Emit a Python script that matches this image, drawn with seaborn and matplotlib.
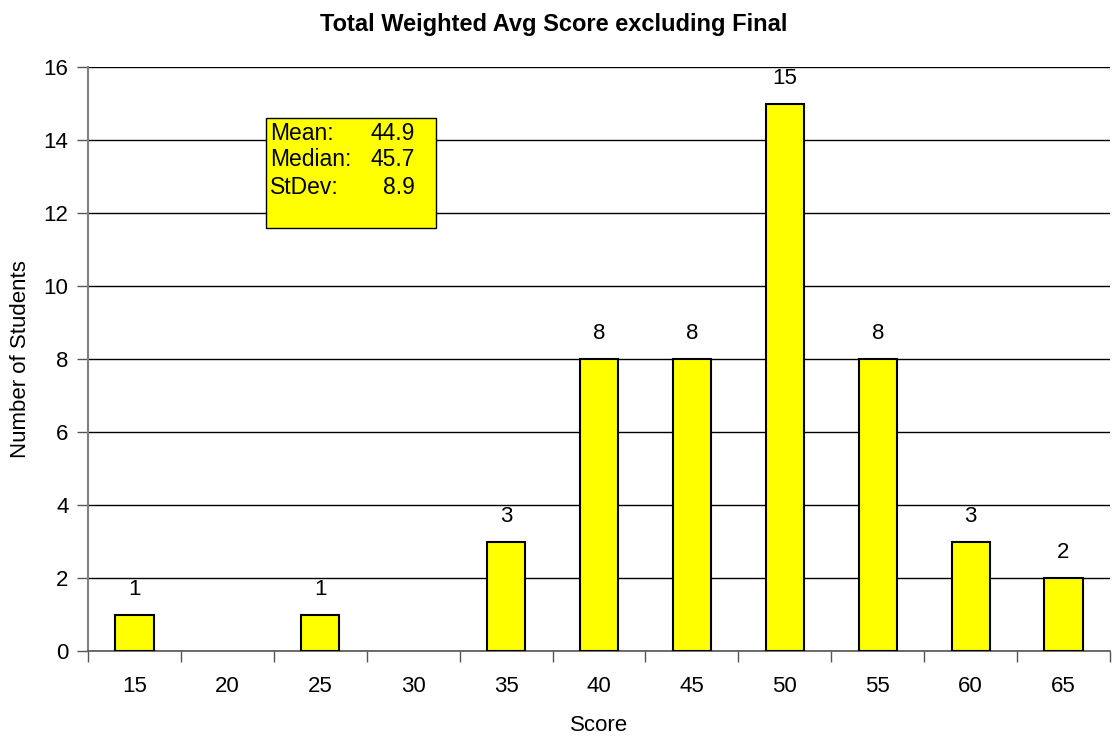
import matplotlib
matplotlib.use('Agg')
import matplotlib.pyplot as plt
import seaborn as sns
import pandas as pd
from matplotlib.patches import Rectangle

sns.set_theme(style='white')
plt.rcParams['font.family'] = ['Liberation Sans', 'DejaVu Sans']
plt.rcParams['text.color'] = 'black'
plt.rcParams['xtick.color'] = 'black'
plt.rcParams['ytick.color'] = 'black'
plt.rcParams['axes.labelcolor'] = 'black'

# histogram of scores
score_bins = ['15', '20', '25', '30', '35', '40', '45', '50', '55', '60', '65']
student_counts = [1, 0, 1, 0, 3, 8, 8, 15, 8, 3, 2]
stat_names = ['Mean:', 'Median:', 'StDev:']
stat_values = ['44.9', '45.7', '8.9']

df = pd.DataFrame({'Score': score_bins, 'Count': student_counts})

fig = plt.figure(figsize=(11.12, 7.36), dpi=100)
ax = fig.add_axes([88 / 1112, 1 - 651 / 736, 1022 / 1112, 584 / 736])

sns.barplot(data=df, x='Score', y='Count', color='#ffff00', width=0.41,
            edgecolor='black', linewidth=1.5, saturation=1, ax=ax, zorder=3)
# empty bins: no outline
for p in ax.patches:
    if p.get_height() == 0:
        p.set_visible(False)

ax.set_ylim(0, 16)
ax.set_xlim(-0.5, len(score_bins) - 0.5)
ax.set_yticks(range(0, 17, 2))
ax.yaxis.grid(True, color='black', linewidth=1)
ax.set_axisbelow(True)

# category labels between boundary ticks, like excel
ax.set_xticks([i - 0.5 for i in range(len(score_bins) + 1)], minor=False)
ax.set_xticklabels([])
ax.set_xticks(range(len(score_bins)), minor=True)
ax.set_xticklabels(score_bins, minor=True)
ax.tick_params(axis='x', which='major', length=8, width=1, color='#555555', direction='out', bottom=True)
ax.tick_params(axis='x', which='minor', length=0, pad=18, labelsize=16)
ax.tick_params(axis='y', length=8, width=1, color='#555555', direction='out', left=True, labelsize=16, pad=6)

for s in ['top', 'right']:
    ax.spines[s].set_visible(False)
ax.spines['left'].set_color('#808080')
ax.spines['left'].set_linewidth(1.5)
ax.spines['bottom'].set_color('#555555')
ax.spines['bottom'].set_linewidth(1.2)

for i, c in enumerate(student_counts):
    if c > 0:
        ax.text(i, c + 0.4, str(c), ha='center', va='bottom', fontsize=16, color='black')

ax.set_xlabel('Score', fontsize=16, labelpad=13)
ax.set_ylabel('Number of Students', fontsize=16, labelpad=9)
fig.text(554 / 1112, 1 - 25 / 736, 'Total Weighted Avg Score excluding Final',
         ha='center', va='center', fontsize=17, fontweight='bold')

# stats box
ax.add_patch(Rectangle(((266 - 88) / 1022, (651 - 228) / 584), 170 / 1022, 110 / 584,
                       transform=ax.transAxes, facecolor='#ffff00', edgecolor='black',
                       linewidth=1, zorder=5))
for k, (n, v) in enumerate(zip(stat_names, stat_values)):
    yy = (651 - (133 + 27 * k)) / 584
    ax.text((270 - 88) / 1022, yy, n, transform=ax.transAxes, ha='left', va='center',
            fontsize=16.5, zorder=6)
    ax.text((415 - 88) / 1022, yy, v, transform=ax.transAxes, ha='right', va='center',
            fontsize=16.5, zorder=6)

fig.savefig('out.png', dpi=100)
